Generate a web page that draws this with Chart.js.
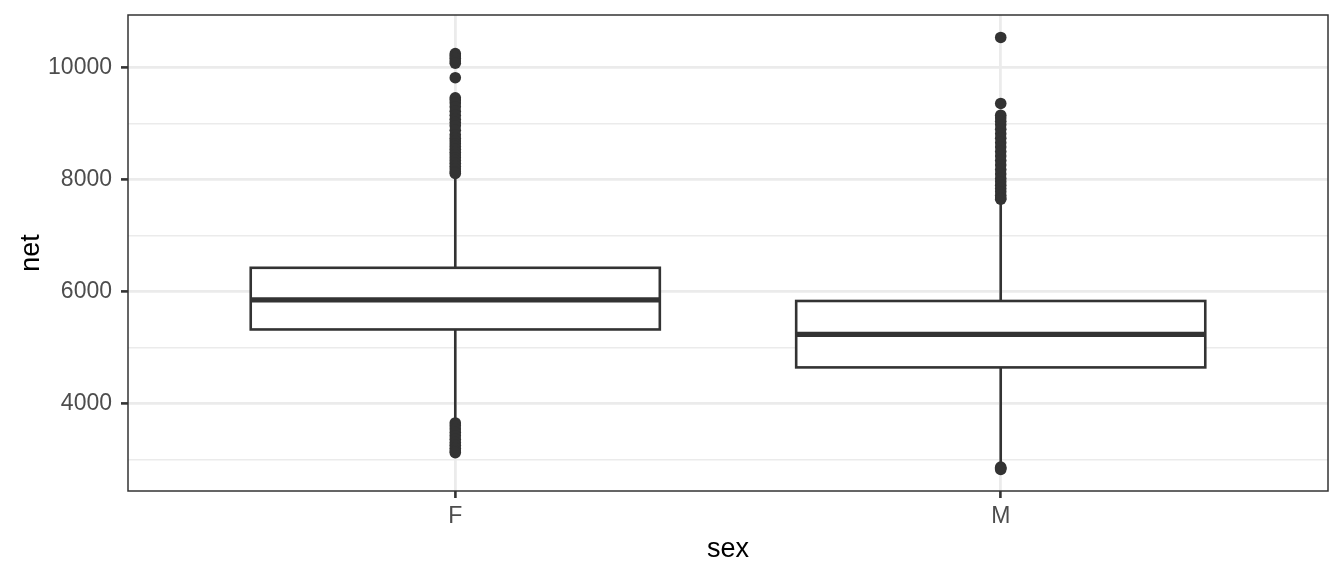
<!DOCTYPE html>
<html>
<head>
<meta charset="utf-8">
<script src="https://cdn.jsdelivr.net/npm/chart.js@4"></script>
<style>
  html, body { margin: 0; padding: 0; background: #fff; }
  #wrap { width: 1344px; height: 576px; }
</style>
</head>
<body>
<div id="wrap"><canvas id="chart"></canvas></div>
<script>
// boxplot summary per category
const categories = ['F', 'M']
const whiskerLow = [3680, 2880]
const q1 = [5321, 4643]
const median = [5848, 5232]
const q3 = [6423, 5830]
const whiskerHigh = [8080, 7630]

// outliers
const outliersF = [10250, 10210, 10170, 10120, 10080, 9820, 9460, 9420, 9370, 9300, 9220, 9150, 9080, 9020, 8960, 8880,
    8800, 8740, 8690, 8640, 8590, 8540, 8490, 8440, 8390, 8340, 8290, 8240, 8190, 8140, 8110,
    3650, 3600, 3540, 3480, 3420, 3360, 3300, 3250, 3200, 3150, 3120]
const outliersM = [10540, 9360, 9150, 9100, 9040, 8980, 8900, 8820, 8740, 8660, 8580, 8500, 8420, 8340, 8260, 8180,
    8100, 8020, 7960, 7900, 7840, 7780, 7720, 7670, 7650, 2860, 2840, 2820]

const yTicks = [3000, 4000, 5000, 6000, 7000, 8000, 9000, 10000]

const DARK = '#333333'
const GRID = '#EBEBEB'

const points = []
outliersF.forEach(v => points.push({x: 1, y: v}))
outliersM.forEach(v => points.push({x: 2, y: v}))

const boxPlugin = {
    id: 'boxes',
    beforeDatasetsDraw(chart) {
        const {ctx, scales: {x, y}} = chart
        const halfW = 0.375
        ctx.save()
        ctx.strokeStyle = DARK
        ctx.lineCap = 'butt'
        for (let i = 0; i < categories.length; i++) {
            const cx = x.getPixelForValue(i + 1)
            const left = x.getPixelForValue(i + 1 - halfW)
            const right = x.getPixelForValue(i + 1 + halfW)
            // whiskers
            ctx.lineWidth = 2.6
            ctx.beginPath()
            ctx.moveTo(cx, y.getPixelForValue(q3[i]))
            ctx.lineTo(cx, y.getPixelForValue(whiskerHigh[i]))
            ctx.moveTo(cx, y.getPixelForValue(q1[i]))
            ctx.lineTo(cx, y.getPixelForValue(whiskerLow[i]))
            ctx.stroke()
            // box
            const top = y.getPixelForValue(q3[i])
            const bot = y.getPixelForValue(q1[i])
            ctx.fillStyle = '#ffffff'
            ctx.fillRect(left, top, right - left, bot - top)
            ctx.strokeRect(left, top, right - left, bot - top)
            // median
            ctx.lineWidth = 5.2
            ctx.beginPath()
            ctx.moveTo(left, y.getPixelForValue(median[i]))
            ctx.lineTo(right, y.getPixelForValue(median[i]))
            ctx.stroke()
        }
        ctx.restore()
    },
    afterDraw(chart) {
        const {ctx, chartArea: a} = chart
        ctx.save()
        ctx.strokeStyle = DARK
        ctx.lineWidth = 1.5
        ctx.strokeRect(a.left, a.top, a.right - a.left, a.bottom - a.top)
        ctx.restore()
    }
}

const ctx = document.getElementById('chart').getContext('2d')
const myChart = new Chart(ctx, {
    type: 'scatter',
    data: {
        datasets: [{
            data: points,
            backgroundColor: DARK,
            borderWidth: 0,
            pointRadius: 5.8,
            pointHoverRadius: 5.8
        }]
    },
    options: {
        responsive: true,
        maintainAspectRatio: false,
        animation: false,
        events: [],
        layout: {
            padding: {left: 0, top: 15, right: 16, bottom: 0}
        },
        plugins: {
            legend: {display: false},
            tooltip: {enabled: false}
        },
        scales: {
            x: {
                type: 'linear',
                min: 0.4,
                max: 2.6,
                afterBuildTicks: function(axis) {
                    axis.ticks = categories.map((c, i) => ({value: i + 1}))
                },
                afterFit: function(axis) {
                    axis.height = 85
                    axis.paddingLeft = 0
                    axis.paddingRight = 0
                },
                ticks: {
                    color: '#4D4D4D',
                    font: {family: 'Liberation Sans', size: 23},
                    padding: 5,
                    callback: function(value) {
                        return categories[value - 1]
                    }
                },
                grid: {
                    color: GRID,
                    lineWidth: 2.8,
                    tickColor: DARK,
                    tickWidth: 2.6,
                    tickLength: 7
                },
                border: {display: false},
                title: {
                    display: true,
                    text: 'sex',
                    color: '#000000',
                    font: {family: 'Liberation Sans', size: 27},
                    padding: {top: 0, bottom: 10}
                }
            },
            y: {
                min: 2434,
                max: 10941,
                afterBuildTicks: function(axis) {
                    axis.ticks = yTicks.map(v => ({value: v}))
                },
                afterFit: function(axis) {
                    axis.width = 128
                    axis.paddingTop = 0
                    axis.paddingBottom = 0
                },
                ticks: {
                    color: '#4D4D4D',
                    font: {family: 'Liberation Sans', size: 23},
                    padding: 9,
                    callback: function(value) {
                        return value % 2000 === 0 ? String(value) : ''
                    }
                },
                grid: {
                    color: GRID,
                    lineWidth: function(c) {
                        return c.tick && c.tick.value % 2000 === 0 ? 2.8 : 1.4
                    },
                    tickColor: function(c) {
                        return c.tick && c.tick.value % 2000 === 0 ? DARK : 'rgba(0,0,0,0)'
                    },
                    tickWidth: 2.6,
                    tickLength: 7
                },
                border: {display: false},
                title: {
                    display: true,
                    text: 'net',
                    color: '#000000',
                    font: {family: 'Liberation Sans', size: 27},
                    padding: {top: 15, bottom: 0}
                }
            }
        }
    },
    plugins: [boxPlugin]
})
</script>
</body>
</html>
